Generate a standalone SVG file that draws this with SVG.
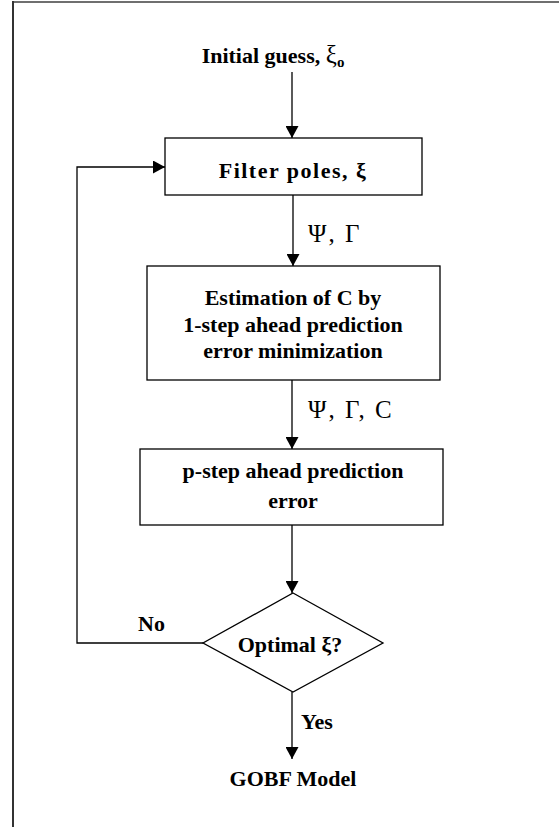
<svg xmlns="http://www.w3.org/2000/svg" width="559" height="827" viewBox="0 0 559 827">
  <style>
    .box { fill: #ffffff; stroke: #000000; stroke-width: 1.3; }
    .edge { fill: none; stroke: #000000; stroke-width: 1.3; }
    .t { font-family: "Liberation Serif", "Times New Roman", serif; font-size: 22px; font-weight: bold; fill: #000000; text-anchor: middle; }
    .g { font-family: "Liberation Serif", "Times New Roman", serif; font-size: 25px; font-weight: normal; fill: #000000; letter-spacing: 2px; }
    .lbl { font-family: "Liberation Serif", "Times New Roman", serif; font-size: 22px; font-weight: bold; fill: #000000; }
  </style>
  <defs>
    <marker id="arrow" markerWidth="13" markerHeight="13" refX="12" refY="6.5" orient="auto" markerUnits="userSpaceOnUse">
      <path d="M0,0 L12,6.5 L0,13 Z" fill="#000000"/>
    </marker>
  </defs>

  <rect x="0" y="0" width="559" height="827" fill="#ffffff"/>

  <!-- frame -->
  <g id="frame">
    <line x1="13" y1="2" x2="559" y2="2" stroke="#6f6f6f" stroke-width="2"/>
    <line x1="13" y1="1" x2="13" y2="827" stroke="#333333" stroke-width="2"/>
  </g>

  <!-- connectors -->
  <g id="connectors">
    <line class="edge" x1="292" y1="72" x2="292" y2="138" marker-end="url(#arrow)"/>
    <line class="edge" x1="293" y1="195" x2="293" y2="266" marker-end="url(#arrow)"/>
    <line class="edge" x1="292" y1="380" x2="292" y2="449" marker-end="url(#arrow)"/>
    <line class="edge" x1="292" y1="525" x2="292" y2="593" marker-end="url(#arrow)"/>
    <line class="edge" x1="292" y1="692" x2="292" y2="759" marker-end="url(#arrow)"/>
    <polyline class="edge" points="203,643 77,643 77,167 165,167" marker-end="url(#arrow)"/>
    <text class="g" x="308" y="242">Ψ, Γ</text>
    <text class="g" x="308" y="418">Ψ, Γ, C</text>
    <text class="lbl" x="138" y="631">No</text>
    <text class="lbl" x="301" y="729">Yes</text>
  </g>

  <g id="start">
    <text class="t" x="273" y="63">Initial guess, <tspan font-weight="normal" font-size="25">ξ</tspan><tspan font-size="15" dy="4">o</tspan></text>
  </g>

  <g id="filter-poles">
    <rect class="box" x="165" y="138" width="257" height="57"/>
    <text class="t" x="293" y="178" letter-spacing="1.5">Filter poles, ξ</text>
  </g>

  <g id="estimation">
    <rect class="box" x="147" y="266" width="293" height="114"/>
    <text class="t" x="293" y="305">Estimation of C by</text>
    <text class="t" x="293" y="332">1-step ahead prediction</text>
    <text class="t" x="293" y="358">error minimization</text>
  </g>

  <g id="p-step">
    <rect class="box" x="140" y="449" width="303" height="76"/>
    <text class="t" x="293" y="478">p-step ahead prediction</text>
    <text class="t" x="293" y="508">error</text>
  </g>

  <g id="decision">
    <polygon class="box" points="293,593 383,643 293,692 203,643"/>
    <text class="t" x="290" y="652">Optimal ξ?</text>
  </g>

  <g id="result">
    <text class="t" x="293" y="786">GOBF Model</text>
  </g>
</svg>
